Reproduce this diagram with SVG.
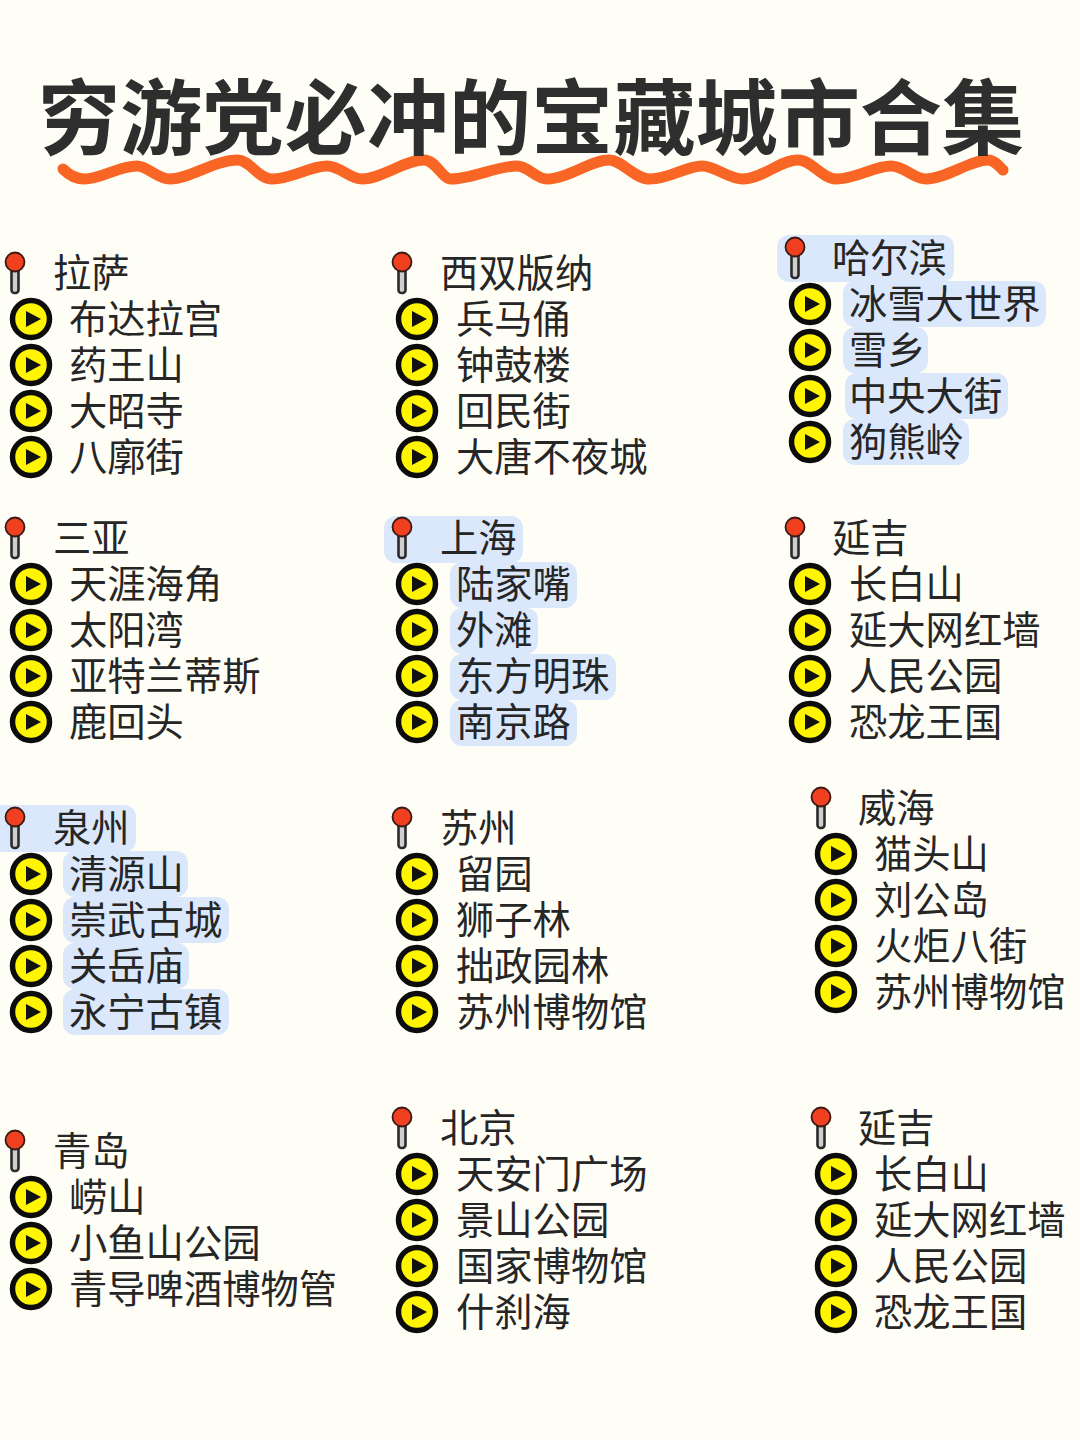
<svg xmlns="http://www.w3.org/2000/svg" xmlns:xlink="http://www.w3.org/1999/xlink" width="1080" height="1440" viewBox="0 0 1080 1440">
<style>
text{font-family:"Noto Sans CJK SC","Noto Sans CJK JP",sans-serif;font-size:38.3px;fill:#262626;font-weight:400;transform:translateX(-1px)}
.h{transform:translate(-1px,1px)}
.title{font-size:82.2px;font-weight:700;fill:#2e2e2e;transform:none}
.hl{fill:#dbe7fb}
</style>
<defs>
<g id="pin">
<rect x="-3.500" y="0" width="7" height="31" rx="3" fill="#cfcfcf" stroke="#2a2a2a" stroke-width="2.600"/>
<circle cx="0" cy="0" r="9.500" fill="#f0401f" stroke="#3a1a14" stroke-width="1.800"/>
</g>
<g id="play">
<circle cx="0" cy="0" r="18.500" fill="#fff500" stroke="#0c0c0c" stroke-width="5.500"/>
<path d="M-5-8L10 0L-5 8Z" fill="#111"/>
</g>
</defs>
<rect width="1080" height="1440" fill="#fffef6"/>
<g id="title">
<path d="M63 169C69 175 75 179 84 179C102 179 118 166 137 166C148 166 157 179 170 179C190 179 214 160 238 160C250 160 258 179 272 179C292 179 310 166 327 166C340 166 350 179 362 179C382 179 404 160 424 160C436 160 442 179 451 179C472 179 497 166 517 166C528 166 536 179 547 179C568 179 590 160 609 160C622 160 634 179 650 179C670 179 686 166 702 166C716 166 728 179 743 179C762 179 780 160 798 160C812 160 822 179 836 179C856 179 874 166 891 166C904 166 914 179 926 179C946 179 970 160 988 160C994 160 999 166 1003 170" fill="none" stroke="#f96524" stroke-width="11" stroke-linecap="round"/>
<text class="title" x="38" y="148">穷游党必冲的宝藏城市合集</text>
</g>
<g id="city-lasa"><use xlink:href="#pin" x="15" y="262"/><text class="h" x="54" y="286">拉萨</text>
<use xlink:href="#play" x="31" y="319"/><text x="70" y="333">布达拉宫</text>
<use xlink:href="#play" x="31" y="365"/><text x="70" y="379">药王山</text>
<use xlink:href="#play" x="31" y="411"/><text x="70" y="425">大昭寺</text>
<use xlink:href="#play" x="31" y="457"/><text x="70" y="471">八廓街</text></g>
<g id="city-xishuangbanna"><use xlink:href="#pin" x="402" y="262"/><text class="h" x="441" y="286">西双版纳</text>
<use xlink:href="#play" x="417" y="319"/><text x="457" y="333">兵马俑</text>
<use xlink:href="#play" x="417" y="365"/><text x="457" y="379">钟鼓楼</text>
<use xlink:href="#play" x="417" y="411"/><text x="457" y="425">回民街</text>
<use xlink:href="#play" x="417" y="457"/><text x="457" y="471">大唐不夜城</text></g>
<g id="city-harbin">
<rect class="hl" x="777" y="235" width="177" height="47" rx="12"/>
<rect class="hl" x="843" y="281" width="203" height="46" rx="12"/>
<rect class="hl" x="843" y="327" width="85" height="46" rx="12"/>
<rect class="hl" x="845" y="373" width="163" height="46" rx="12"/>
<rect class="hl" x="843" y="419" width="126" height="46" rx="12"/>
<use xlink:href="#pin" x="795" y="247"/><text class="h" x="833" y="271">哈尔滨</text>
<use xlink:href="#play" x="810" y="304"/><text x="850" y="318">冰雪大世界</text>
<use xlink:href="#play" x="810" y="350"/><text x="850" y="364">雪乡</text>
<use xlink:href="#play" x="810" y="396"/><text x="850" y="410">中央大街</text>
<use xlink:href="#play" x="810" y="442"/><text x="850" y="456">狗熊岭</text></g>
<g id="city-sanya"><use xlink:href="#pin" x="15" y="527"/><text class="h" x="54" y="551">三亚</text>
<use xlink:href="#play" x="31" y="584"/><text x="70" y="598">天涯海角</text>
<use xlink:href="#play" x="31" y="630"/><text x="70" y="644">太阳湾</text>
<use xlink:href="#play" x="31" y="676"/><text x="70" y="690">亚特兰蒂斯</text>
<use xlink:href="#play" x="31" y="722"/><text x="70" y="736">鹿回头</text></g>
<g id="city-shanghai">
<rect class="hl" x="384" y="516" width="139" height="47" rx="12"/>
<rect class="hl" x="450" y="562" width="127" height="46" rx="12"/>
<rect class="hl" x="450" y="608" width="88" height="46" rx="12"/>
<rect class="hl" x="450" y="654" width="166" height="46" rx="12"/>
<rect class="hl" x="450" y="700" width="127" height="46" rx="12"/>
<use xlink:href="#pin" x="402" y="527"/><text class="h" x="441" y="551">上海</text>
<use xlink:href="#play" x="417" y="584"/><text x="457" y="598">陆家嘴</text>
<use xlink:href="#play" x="417" y="630"/><text x="457" y="644">外滩</text>
<use xlink:href="#play" x="417" y="676"/><text x="457" y="690">东方明珠</text>
<use xlink:href="#play" x="417" y="722"/><text x="457" y="736">南京路</text></g>
<g id="city-yanji-1"><use xlink:href="#pin" x="795" y="527"/><text class="h" x="833" y="551">延吉</text>
<use xlink:href="#play" x="810" y="584"/><text x="850" y="598">长白山</text>
<use xlink:href="#play" x="810" y="630"/><text x="850" y="644">延大网红墙</text>
<use xlink:href="#play" x="810" y="676"/><text x="850" y="690">人民公园</text>
<use xlink:href="#play" x="810" y="722"/><text x="850" y="736">恐龙王国</text></g>
<g id="city-quanzhou">
<rect class="hl" x="-10" y="805" width="146" height="47" rx="12"/>
<rect class="hl" x="63" y="851" width="125" height="46" rx="12"/>
<rect class="hl" x="63" y="897" width="166" height="46" rx="12"/>
<rect class="hl" x="63" y="943" width="126" height="46" rx="12"/>
<rect class="hl" x="63" y="989" width="166" height="46" rx="12"/>
<use xlink:href="#pin" x="15" y="817"/><text class="h" x="54" y="841">泉州</text>
<use xlink:href="#play" x="31" y="874"/><text x="70" y="888">清源山</text>
<use xlink:href="#play" x="31" y="920"/><text x="70" y="934">崇武古城</text>
<use xlink:href="#play" x="31" y="966"/><text x="70" y="980">关岳庙</text>
<use xlink:href="#play" x="31" y="1012"/><text x="70" y="1026">永宁古镇</text></g>
<g id="city-suzhou"><use xlink:href="#pin" x="402" y="817"/><text class="h" x="441" y="841">苏州</text>
<use xlink:href="#play" x="417" y="874"/><text x="457" y="888">留园</text>
<use xlink:href="#play" x="417" y="920"/><text x="457" y="934">狮子林</text>
<use xlink:href="#play" x="417" y="966"/><text x="457" y="980">拙政园林</text>
<use xlink:href="#play" x="417" y="1012"/><text x="457" y="1026">苏州博物馆</text></g>
<g id="city-weihai"><use xlink:href="#pin" x="821" y="797"/><text class="h" x="859" y="821">威海</text>
<use xlink:href="#play" x="836" y="854"/><text x="875" y="868">猫头山</text>
<use xlink:href="#play" x="836" y="900"/><text x="875" y="914">刘公岛</text>
<use xlink:href="#play" x="836" y="946"/><text x="875" y="960">火炬八街</text>
<use xlink:href="#play" x="836" y="992"/><text x="875" y="1006">苏州博物馆</text></g>
<g id="city-qingdao"><use xlink:href="#pin" x="15" y="1140"/><text class="h" x="54" y="1164">青岛</text>
<use xlink:href="#play" x="31" y="1197"/><text x="70" y="1211">崂山</text>
<use xlink:href="#play" x="31" y="1243"/><text x="70" y="1257">小鱼山公园</text>
<use xlink:href="#play" x="31" y="1289"/><text x="70" y="1303">青导啤酒博物管</text></g>
<g id="city-beijing"><use xlink:href="#pin" x="402" y="1117"/><text class="h" x="441" y="1141">北京</text>
<use xlink:href="#play" x="417" y="1174"/><text x="457" y="1188">天安门广场</text>
<use xlink:href="#play" x="417" y="1220"/><text x="457" y="1234">景山公园</text>
<use xlink:href="#play" x="417" y="1266"/><text x="457" y="1280">国家博物馆</text>
<use xlink:href="#play" x="417" y="1312"/><text x="457" y="1326">什刹海</text></g>
<g id="city-yanji-2"><use xlink:href="#pin" x="821" y="1117"/><text class="h" x="859" y="1141">延吉</text>
<use xlink:href="#play" x="836" y="1174"/><text x="875" y="1188">长白山</text>
<use xlink:href="#play" x="836" y="1220"/><text x="875" y="1234">延大网红墙</text>
<use xlink:href="#play" x="836" y="1266"/><text x="875" y="1280">人民公园</text>
<use xlink:href="#play" x="836" y="1312"/><text x="875" y="1326">恐龙王国</text></g>
</svg>
